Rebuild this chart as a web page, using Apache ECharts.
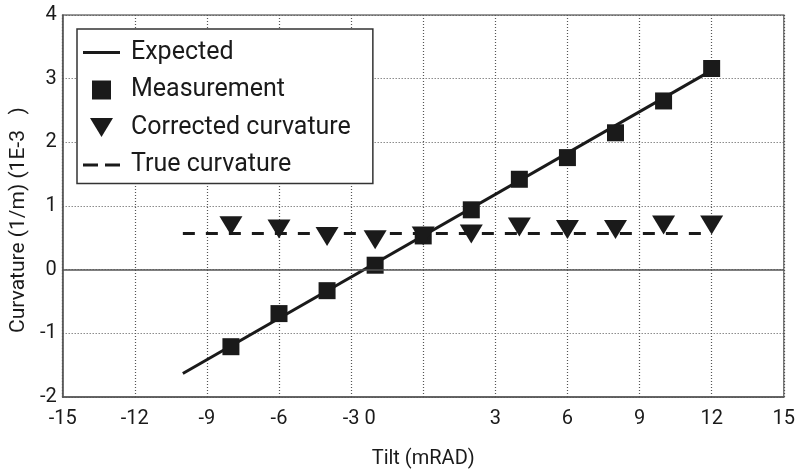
<!DOCTYPE html>
<html>
<head>
<meta charset="utf-8">
<script src="https://cdn.jsdelivr.net/npm/echarts@6/dist/echarts.min.js"></script>
<style>
  html, body { margin: 0; padding: 0; background: #fff; }
  #chart { width: 798px; height: 474px; }
</style>
</head>
<body>
<div id="chart"></div>
<script>
// tilt values (mRAD)
var tilt = [-8, -6, -4, -2, 0, 2, 4, 6, 8, 10, 12];
// curvature (1E-3 1/m)
var measurement = [-1.21, -0.69, -0.33, 0.07, 0.53, 0.94, 1.42, 1.76, 2.15, 2.65, 3.16];
var corrected = [0.69, 0.64, 0.52, 0.47, 0.53, 0.56, 0.67, 0.63, 0.63, 0.70, 0.70];
// line end points
var expectedX = [-10, 12];
var expectedY = [-1.63, 3.13];
var trueX = [-10, 12];
var trueY = [0.57, 0.57];

function pairs(xs, ys) {
  return xs.map(function (x, i) { return [x, ys[i]]; });
}

var ink = '#1a1a1a';
var font = 'Roboto';

var myChart = echarts.init(document.getElementById('chart'));
myChart.setOption({
  animation: false,
  textStyle: { fontFamily: font, color: ink },
  grid: {
    left: 61, right: 12, top: 15, bottom: 76,
    show: true, borderColor: '#777', borderWidth: 1.5
  },
  legend: {
    orient: 'vertical',
    left: 77, top: 29,
    padding: [11, 22, 6, 6],
    itemGap: 12.5,
    itemWidth: 37,
    itemHeight: 19,
    borderColor: '#333',
    borderWidth: 1.5,
    borderRadius: 0,
    backgroundColor: '#fff',
    itemStyle: { color: ink, borderWidth: 0, opacity: 1 },
    textStyle: { fontFamily: font, fontSize: 25, color: ink, padding: [0, 0, 0, 6] },
    data: [
      { name: 'Expected', icon: 'path://M0,0H37V3H0Z' },
      { name: 'Measurement', icon: 'path://M0,0H1V1H0Z' },
      { name: 'Corrected curvature', icon: 'path://M0,0H23L11.5,19Z' },
      { name: 'True curvature', icon: 'path://M0,0H15V3H0Z M22,0H37V3H22Z' }
    ]
  },
  xAxis: {
    type: 'value',
    min: -15, max: 15, interval: 3,
    name: 'Tilt (mRAD)',
    nameLocation: 'middle',
    nameGap: 52,
    nameTextStyle: { fontSize: 20, color: ink },
    axisLine: { onZero: false, lineStyle: { color: '#555', width: 1.5 } },
    axisTick: { show: false },
    axisLabel: {
      fontSize: 20, color: ink, margin: 12,
      formatter: function (v) { return v === 0 ? '{z|0}' : String(v); },
      rich: { z: { fontSize: 20, fontFamily: font, color: ink, padding: [0, 106, 0, 0] } }
    },
    splitLine: { lineStyle: { color: '#555', width: 1.2, type: [1, 2] } }
  },
  yAxis: {
    type: 'value',
    min: -2, max: 4, interval: 1,
    name: 'Curvature (1/m) (1E-3   )',
    nameLocation: 'middle',
    nameGap: 32,
    nameTextStyle: { fontSize: 21, color: ink, padding: [0, 28, 0, 0] },
    axisLine: { onZero: false, lineStyle: { color: '#555', width: 1.5 } },
    axisTick: { show: false },
    axisLabel: { fontSize: 20, color: ink, margin: 6 },
    splitLine: { lineStyle: { color: '#555', width: 1.2, type: [1, 2] } }
  },
  series: [
    {
      name: 'Expected',
      type: 'line',
      data: pairs(expectedX, expectedY),
      symbol: 'none',
      color: ink,
      lineStyle: { color: ink, width: 3 },
      z: 3,
      markLine: {
        silent: true,
        symbol: 'none',
        label: { show: false },
        lineStyle: { color: '#555', width: 1.5, type: 'solid' },
        data: [{ yAxis: 0 }]
      }
    },
    {
      name: 'Measurement',
      type: 'scatter',
      data: pairs(tilt, measurement),
      symbol: 'rect',
      symbolSize: 17,
      itemStyle: { color: ink, opacity: 1 },
      z: 4
    },
    {
      name: 'Corrected curvature',
      type: 'scatter',
      data: pairs(tilt, corrected),
      symbol: 'path://M0,0H23L11.5,19Z',
      symbolSize: [23, 19],
      itemStyle: { color: ink, opacity: 1 },
      z: 4
    },
    {
      name: 'True curvature',
      type: 'line',
      data: pairs(trueX, trueY),
      symbol: 'none',
      color: ink,
      lineStyle: { color: ink, width: 3, type: [12, 11] },
      z: 3
    }
  ]
});
</script>
</body>
</html>
